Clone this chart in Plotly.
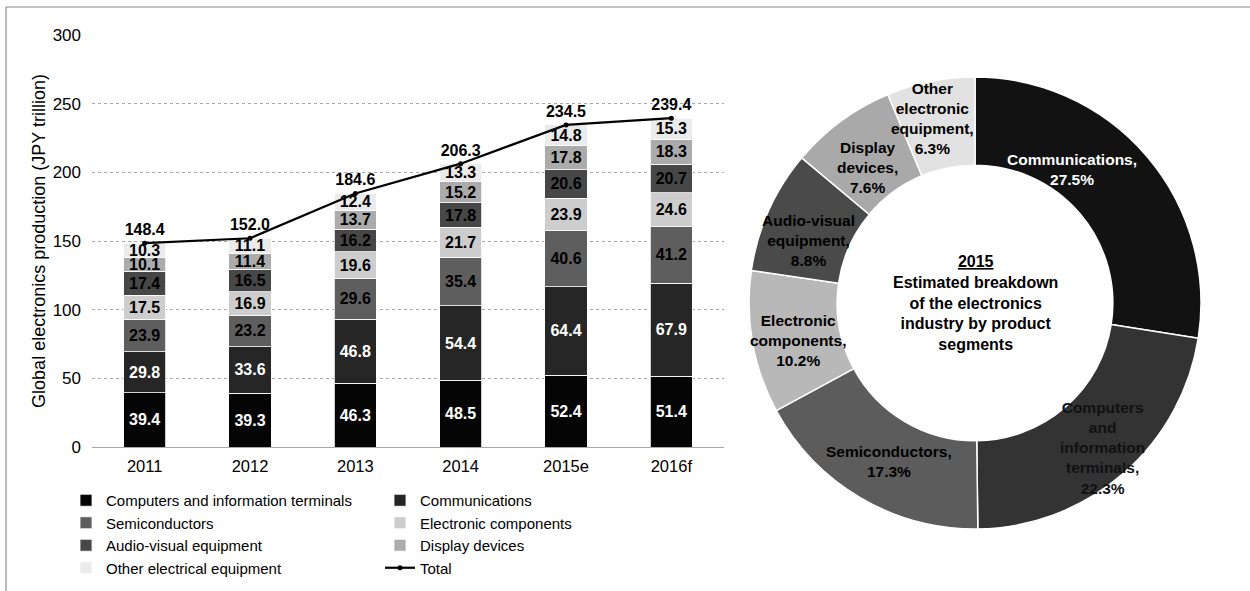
import math
import plotly.graph_objects as go

# ---- data -------------------------------------------------------------
years = ["2011", "2012", "2013", "2014", "2015e", "2016f"]
computers = [39.4, 39.3, 46.3, 48.5, 52.4, 51.4]
communications = [29.8, 33.6, 46.8, 54.4, 64.4, 67.9]
semiconductors = [23.9, 23.2, 29.6, 35.4, 40.6, 41.2]
electronic_components = [17.5, 16.9, 19.6, 21.7, 23.9, 24.6]
audio_visual = [17.4, 16.5, 16.2, 17.8, 20.6, 20.7]
display_devices = [10.1, 11.4, 13.7, 15.2, 17.8, 18.3]
other_electrical = [10.3, 11.1, 12.4, 13.3, 14.8, 15.3]
total = [148.4, 152.0, 184.6, 206.3, 234.5, 239.4]

y_ticks = [0, 50, 100, 150, 200, 250, 300]

share_names = [
    "Communications",
    "Computers and information terminals",
    "Semiconductors",
    "Electronic components",
    "Audio-visual equipment",
    "Display devices",
    "Other electronic equipment",
]
share_values = [27.5, 22.3, 17.3, 10.2, 8.8, 7.6, 6.3]

# ---- layout geometry (pixels) ------------------------------------------
W, H = 1250, 591
ML, MR, MT, MB = 92, 40, 30, 40
PW, PH = W - ML - MR, H - MT - MB


def px_x(p):
    return (p - ML) / PW


def px_y(p):
    return (H - MB - p) / PH


FONT = "Liberation Sans, Arial, sans-serif"

bar_series = [
    ("Computers and information terminals", computers, "#050505", "white", "legend"),
    ("Communications", communications, "#262626", "white", "legend2"),
    ("Semiconductors", semiconductors, "#5e5e5e", "black", "legend"),
    ("Electronic components", electronic_components, "#cdcdcd", "black", "legend2"),
    ("Audio-visual equipment", audio_visual, "#474747", "black", "legend"),
    ("Display devices", display_devices, "#ababab", "black", "legend2"),
    ("Other electrical equipment", other_electrical, "#ebebeb", "black", "legend"),
]

fig = go.Figure()

for name, vals, color, tcolor, leg in bar_series:
    fig.add_trace(go.Bar(
        x=years, y=vals, name=name,
        marker=dict(color=color, line=dict(color="white", width=0.8)),
        texttemplate="%{y:.1f}", textposition="inside",
        insidetextanchor="middle", textangle=0, constraintext="none",
        textfont=dict(family=FONT, size=16, color=tcolor, weight="bold"),
        legend=leg,
    ))

fig.add_trace(go.Scatter(
    x=years, y=total, name="Total", mode="lines+markers+text",
    line=dict(color="black", width=2.2),
    marker=dict(color="black", size=5),
    text=[f"{v:.1f}" for v in total], textposition="top center",
    textfont=dict(family=FONT, size=16, color="black", weight="bold"),
    cliponaxis=False, legend="legend2",
))

# ---- donut ------------------------------------------------------------
pie_cx, pie_cy, pie_r = 975, 303, 226
hole = 0.61
pie_colors = ["#121212", "#333333", "#5c5c5c", "#b8b8b8", "#4a4a4a", "#a9a9a9", "#e2e2e2"]

fig.add_trace(go.Pie(
    labels=share_names, values=share_values, sort=False,
    direction="clockwise", rotation=0, hole=hole,
    marker=dict(colors=pie_colors, line=dict(color="white", width=1.5)),
    textinfo="none", showlegend=False,
    domain=dict(x=[px_x(pie_cx - pie_r), px_x(pie_cx + pie_r)],
                y=[px_y(pie_cy + pie_r), px_y(pie_cy - pie_r)]),
))

label_lines = {
    "Communications": ["Communications"],
    "Computers and information terminals": ["Computers", "and", "information", "terminals"],
    "Semiconductors": ["Semiconductors"],
    "Electronic components": ["Electronic", "components"],
    "Audio-visual equipment": ["Audio-visual", "equipment"],
    "Display devices": ["Display", "devices"],
    "Other electronic equipment": ["Other", "electronic", "equipment"],
}
label_colors = {"Communications": "white", "Computers and information terminals": "#111111"}
label_nudge = {
    "Communications": (-41, -15),
    "Computers and information terminals": (8, 7),
    "Semiconductors": (6, 2),
    "Electronic components": (2, 6),
    "Audio-visual equipment": (0, 12),
    "Display devices": (0, 11),
    "Other electronic equipment": (-7, -6),
}

annotations = []
r_mid = pie_r * (1 + hole) / 2
cum = 0.0
tot = sum(share_values)
for name, v in zip(share_names, share_values):
    ang = math.radians((cum + v / 2) / tot * 360)
    cum += v
    dx, dy = label_nudge[name]
    lx = pie_cx + r_mid * math.sin(ang) + dx
    ly = pie_cy - r_mid * math.cos(ang) + dy
    text = "<br>".join(label_lines[name]) + f",<br>{v:.1f}%"
    annotations.append(dict(
        x=px_x(lx), y=px_y(ly), xref="paper", yref="paper",
        text=text, showarrow=False, xanchor="center", yanchor="middle",
        font=dict(family=FONT, size=15.5, color=label_colors.get(name, "black"), weight="bold"),
    ))

annotations.append(dict(
    x=px_x(pie_cx), y=px_y(pie_cy), xref="paper", yref="paper",
    text="<u>2015</u><br>Estimated breakdown<br>of the electronics<br>industry by product<br>segments",
    showarrow=False, xanchor="center", yanchor="middle",
    font=dict(family=FONT, size=16, color="black", weight="bold"),
))

# frame lines along top and left edges
shapes = [
    dict(type="line", xref="paper", yref="paper",
         x0=px_x(6), x1=px_x(W), y0=px_y(7), y1=px_y(7),
         line=dict(color="#8a8a8a", width=1)),
    dict(type="line", xref="paper", yref="paper",
         x0=px_x(6), x1=px_x(6), y0=px_y(7), y1=px_y(H),
         line=dict(color="#7a7a7a", width=1)),
]

legend_style = dict(
    orientation="v", xanchor="left", yanchor="top", traceorder="normal",
    font=dict(family=FONT, size=15, color="black"),
    bgcolor="rgba(0,0,0,0)", itemwidth=30, tracegroupgap=0,
)

fig.update_layout(
    width=W, height=H,
    margin=dict(l=ML, r=MR, t=MT, b=MB, autoexpand=False),
    paper_bgcolor="white", plot_bgcolor="white",
    barmode="stack", bargap=0.6,
    font=dict(family=FONT, size=16, color="black"),
    xaxis=dict(domain=[0, px_x(724)], showgrid=False, showline=False,
               tickfont=dict(size=16.5), ticklabelstandoff=7, fixedrange=True),
    yaxis=dict(domain=[px_y(447), px_y(35)], range=[0, 300], tickvals=y_ticks,
               showgrid=True, gridcolor="#a8a8a8", griddash="dot", gridwidth=1,
               zeroline=True, zerolinecolor="#a8a8a8", zerolinewidth=1,
               showline=False, tickfont=dict(size=17), ticklabelstandoff=10,
               title=dict(text="Global electronics production (JPY trillion)",
                          font=dict(size=18), standoff=2)),
    legend=dict(x=px_x(66), y=px_y(484), **legend_style),
    legend2=dict(x=px_x(380), y=px_y(484), **legend_style),
    annotations=annotations,
    shapes=shapes,
)

fig.write_html("out.html")
